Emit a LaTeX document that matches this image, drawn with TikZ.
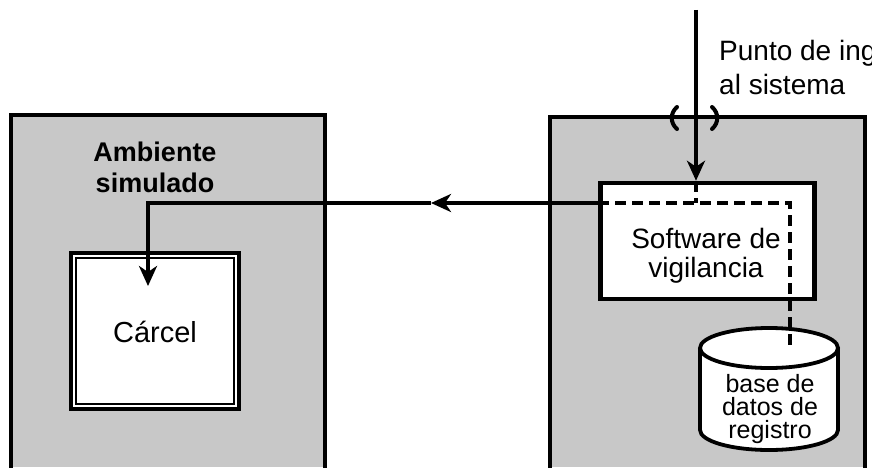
\documentclass[tikz,border=0pt]{standalone}
\usepackage{fontspec}
\setmainfont{Liberation Sans}
\usetikzlibrary{arrows.meta}
\definecolor{stipple}{RGB}{200,200,200}
\tikzset{
  panel/.style={fill=stipple},
  panelborder/.style={line width=4.5pt, line cap=butt, line join=miter},
  boxnode/.style={draw, line width=4.5pt, fill=white, inner sep=0pt},
  conn/.style={line width=3.8pt},
  dashline/.style={line width=3.8pt, dash pattern=on 11pt off 6pt},
  tip/.style={-{Stealth[length=20pt,width=18pt,inset=6pt]}},
  lbl/.style={font=\fontsize{28}{29}\selectfont, align=center, inner sep=0pt},
  dblbl/.style={font=\fontsize{25}{23}\selectfont, align=center, inner sep=0pt},
  paren/.style={line width=4pt, line cap=round}
}
\begin{document}
\begin{tikzpicture}[x=1pt,y=1pt]
\useasboundingbox (0,0) rectangle (872,467);
\fill[white] (0,0) rectangle (872,467);
% panels
\fill[panel] (11,0) rectangle (325,352);
\draw[panelborder] (11,-5) -- (11,352) -- (325,352) -- (325,-5);
\fill[panel] (550,0) rectangle (865,350);
\draw[panelborder] (550,-5) -- (550,350) -- (865,350) -- (865,-5);
% labels in left panel
\node[lbl, font=\fontsize{27}{31}\selectfont\bfseries] (amb) at (155,300) {Ambiente\\simulado};
% carcel
\node[boxnode, minimum width=168pt, minimum height=156pt] (carcel) at (155,136) {};
\draw[line width=1.6pt] ([shift={(7.5,7.5)}]carcel.south west) rectangle ([shift={(-7.5,-7.5)}]carcel.north east);
\node[lbl, font=\fontsize{29}{31}\selectfont] (carceltxt) at (155,135) {Cárcel};
% software box
\node[boxnode, minimum width=214pt, minimum height=116pt] (sw) at (707.5,226) {};
\node[lbl] (swtxt) at (706,211) {Software de\\vigilancia};
% database cylinder
\coordinate (dbtop) at (769,119);
\fill[white] (700,119) -- (700,37) arc[start angle=180,end angle=360,x radius=69,y radius=20] -- (838,119) arc[start angle=0,end angle=180,x radius=69,y radius=20] -- cycle;
\draw[line width=3.8pt] (700,119) -- (700,37) arc[start angle=180,end angle=360,x radius=69,y radius=20] -- (838,119);
\draw[line width=3.8pt] (dbtop) ellipse[x radius=69,y radius=20];
\node[dblbl] (db) at (770,58) {base de\\datos de\\registro};
% input
\coordinate (in) at (696,457);
\coordinate (j) at (696,264);
\coordinate (k) at (790,264);
\coordinate (dbin) at (790,119);
\draw[conn, tip] (in) -- (sw.north -| in);
\draw[dashline] (sw.north -| in) -- (j);
\draw[dashline] (sw.west |- j) -- (k) -- (dbin);
% output to carcel
\coordinate (mid) at (431,264);
\coordinate (cin) at (148,181);
\draw[conn, tip] (sw.west |- j) -- (mid);
\draw[conn, tip] (mid) -- (cin |- mid) -- (cin);
% parentheses
\draw[paren] (677,360) .. controls (670,354) and (670,344) .. (677,338);
\draw[paren] (712,360) .. controls (719,354) and (719,344) .. (712,338);
% entry label (cut off by the right edge, as in the reference)
\begin{scope}
\clip (0,0) rectangle (872,467);
\node[lbl, align=left, anchor=west, font=\fontsize{28}{34}\selectfont] (punto) at (719,400) {Punto de ingreso\\al sistema};
\end{scope}
\end{tikzpicture}
\end{document}
